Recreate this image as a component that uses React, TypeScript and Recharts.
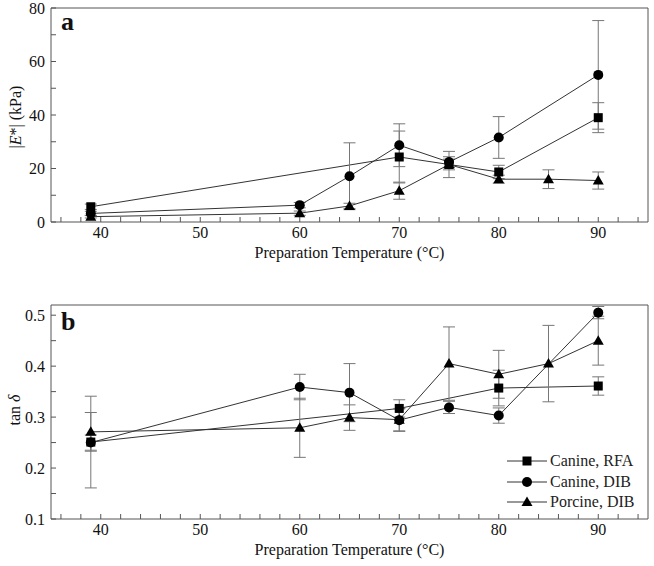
import React from 'react';
import { LineChart, Line, XAxis, YAxis, ErrorBar, Legend } from 'recharts';

// panel a: |E*| (kPa) vs preparation temperature (°C)
const rfaTempsA = [39, 70, 75, 80, 90];
const rfaModulus = [5.7, 24.3, 21.5, 18.7, 39.0];
const rfaModulusErr = [1.0, 9.7, 2.0, 2.5, 5.6];

const canineTempsA = [39, 60, 65, 70, 75, 80, 90];
const canineModulus = [3.2, 6.3, 17.1, 28.7, 22.4, 31.6, 55.0];
const canineModulusErr = [0.8, 1.0, 12.5, 8.0, 2.0, 7.8, 20.3];

const porcineTempsA = [39, 60, 65, 70, 75, 80, 85, 90];
const porcineModulus = [2.0, 3.3, 6.0, 11.7, 21.5, 16.0, 16.0, 15.5];
const porcineModulusErr = [0.5, 0.8, 1.0, 3.2, 4.9, 1.5, 3.5, 3.2];

// panel b: tan delta
const rfaTempsB = [39, 70, 80, 90];
const rfaTan = [0.251, 0.317, 0.357, 0.361];
const rfaTanErr = [0.09, 0.017, 0.035, 0.018];

const canineTempsB = [39, 60, 65, 70, 75, 80, 90];
const canineTan = [0.25, 0.359, 0.348, 0.294, 0.319, 0.303, 0.505];
const canineTanErr = [0.015, 0.025, 0.057, 0.022, 0.012, 0.015, 0.012];

const porcineTempsB = [39, 60, 65, 70, 75, 80, 85, 90];
const porcineTan = [0.271, 0.279, 0.299, 0.295, 0.405, 0.384, 0.405, 0.45];
const porcineTanErr = [0.038, 0.058, 0.025, 0.022, 0.072, 0.047, 0.075, 0.048];

const seriesNames = ['Canine, RFA', 'Canine, DIB', 'Porcine, DIB'];

const xTicks = [36, 38, 40, 42, 44, 46, 48, 50, 52, 54, 56, 58, 60, 62, 64, 66, 68, 70, 72, 74, 76, 78, 80, 82, 84, 86, 88, 90, 92, 94];
const modulusTicks = [0, 10, 20, 30, 40, 50, 60, 70, 80];
const tanTicks = [0.1, 0.15, 0.2, 0.25, 0.3, 0.35, 0.4, 0.45, 0.5];

const FONT = '"Liberation Serif", "Times New Roman", Times, "DejaVu Serif", serif';
const AXIS = '#555';
const LINE = '#333';
const ERR = '#777';

const zip = (t: number[], v: number[], e: number[]) => t.map((x, i) => ({ t: x, v: v[i], e: e[i] }));

const Marker = ({ kind, cx, cy }: { kind: number; cx: number; cy: number }) => {
  if (kind === 0) return <rect x={cx - 4.5} y={cy - 4.5} width={9} height={9} fill="#000" />;
  if (kind === 1) return <circle cx={cx} cy={cy} r={5} fill="#000" />;
  return <polygon points={`${cx},${cy - 5.5} ${cx - 5.5},${cy + 4} ${cx + 5.5},${cy + 4}`} fill="#000" />;
};

const dotFor = (kind: number) => (p: any) => {
  if (p.cx == null || p.cy == null) return <g key={`n-${p.index}`} />;
  return <Marker key={`${kind}-${p.index}`} kind={kind} cx={p.cx} cy={p.cy} />;
};

const XTick = ({ x, y, payload }: any) =>
  payload.value % 10 === 0 ? (
    <text x={x} y={y + 16} textAnchor="middle" fontSize={16} fill="#111" fontFamily={FONT}>{payload.value}</text>
  ) : <g />;

const ModTick = ({ x, y, payload }: any) =>
  payload.value % 20 === 0 ? (
    <text x={x - 6} y={y + 5.5} textAnchor="end" fontSize={16} fill="#111" fontFamily={FONT}>{payload.value}</text>
  ) : <g />;

const TanTick = ({ x, y, payload }: any) =>
  Math.round(payload.value * 100) % 10 === 0 ? (
    <text x={x - 6} y={y + 5.5} textAnchor="end" fontSize={16} fill="#111" fontFamily={FONT}>{payload.value.toFixed(1)}</text>
  ) : <g />;

const XTitle = ({ viewBox }: any) => {
  const vb = viewBox || { x: 51, y: 222, width: 597 };
  return (
    <text x={vb.x + vb.width / 2} y={vb.y + 36} textAnchor="middle" fontSize={16} fill="#111" fontFamily={FONT}>
      Preparation Temperature (°C)
    </text>
  );
};

const ModTitle = ({ viewBox }: any) => {
  const vb = viewBox || { x: 11, y: 8, height: 214 };
  const x = vb.x + 10;
  const y = vb.y + vb.height / 2 + 2;
  return (
    <text x={x} y={y} transform={`rotate(-90, ${x}, ${y})`} textAnchor="middle" fontSize={16} fill="#111" fontFamily={FONT}>
      |<tspan fontStyle="italic">E</tspan>*| (kPa)
    </text>
  );
};

const TanTitle = ({ viewBox }: any) => {
  const vb = viewBox || { x: 11, y: 35, height: 214 };
  const x = vb.x + 9;
  const y = vb.y + vb.height / 2 - 2;
  return (
    <text x={x} y={y} transform={`rotate(-90, ${x}, ${y})`} textAnchor="middle" fontSize={16} fill="#111" fontFamily={FONT}>
      tan <tspan fontStyle="italic">δ</tspan>
    </text>
  );
};

const LegendContent = () => (
  <div style={{ fontFamily: FONT, fontSize: 16, color: '#222' }}>
    {seriesNames.map((name, i) => (
      <div key={name} style={{ display: 'flex', alignItems: 'center', height: 20.5 }}>
        <svg width={40} height={14} style={{ display: 'block' }}>
          <line x1={0} x2={40} y1={7} y2={7} stroke={LINE} strokeWidth={1} />
          <Marker kind={i} cx={20} cy={7} />
        </svg>
        <span style={{ marginLeft: 3, lineHeight: '16px' }}>{name}</span>
      </div>
    ))}
  </div>
);

const frameProps = { stroke: AXIS, strokeWidth: 1 };

export default function App() {
  const modSeries = [
    zip(rfaTempsA, rfaModulus, rfaModulusErr),
    zip(canineTempsA, canineModulus, canineModulusErr),
    zip(porcineTempsA, porcineModulus, porcineModulusErr),
  ];
  const tanSeries = [
    zip(rfaTempsB, rfaTan, rfaTanErr),
    zip(canineTempsB, canineTan, canineTanErr),
    zip(porcineTempsB, porcineTan, porcineTanErr),
  ];

  return (
    <div style={{ position: 'absolute', left: 0, top: 0, width: 654, height: 566, background: '#fff', fontFamily: FONT }}>
      <div style={{ position: 'absolute', left: 0, top: 0 }}>
        <LineChart width={654} height={270} margin={{ top: 7, right: 5, left: 11, bottom: 8 }} style={{ fontFamily: FONT }}>
          <XAxis dataKey="t" type="number" domain={[35, 95]} ticks={xTicks} interval={0} allowDataOverflow
            height={40} tickSize={-5} tickMargin={5} axisLine={frameProps} tickLine={frameProps}
            tick={XTick} label={XTitle} />
          <XAxis xAxisId="top" orientation="top" type="number" domain={[35, 95]} ticks={xTicks} interval={0}
            allowDataOverflow height={1} tickSize={-5} tickMargin={0} axisLine={frameProps} tickLine={frameProps} tick={false} />
          <YAxis type="number" domain={[0, 80]} ticks={modulusTicks} interval={0} allowDataOverflow width={40}
            tickSize={-5} tickMargin={5} axisLine={frameProps} tickLine={frameProps} tick={ModTick} label={ModTitle} />
          <YAxis yAxisId="right" orientation="right" type="number" domain={[0, 80]} ticks={modulusTicks} interval={0}
            allowDataOverflow width={1} tickSize={-5} tickMargin={0} axisLine={frameProps} tickLine={frameProps} tick={false} />
          {modSeries.map((d, i) => (
            <Line key={seriesNames[i]} data={d} dataKey="v" name={seriesNames[i]} stroke={LINE} strokeWidth={1}
              dot={dotFor(i)} activeDot={false} isAnimationActive={false}>
              <ErrorBar dataKey="e" direction="y" width={6} stroke={ERR} strokeWidth={1} />
            </Line>
          ))}
          <text x={61} y={30} fontSize={26} fontWeight="bold" fill="#111" fontFamily={FONT}>a</text>
        </LineChart>
      </div>
      <div style={{ position: 'absolute', left: 0, top: 270 }}>
        <LineChart width={654} height={296} margin={{ top: 34, right: 5, left: 11, bottom: 7 }} style={{ fontFamily: FONT }}>
          <XAxis dataKey="t" type="number" domain={[35, 95]} ticks={xTicks} interval={0} allowDataOverflow
            height={40} tickSize={-5} tickMargin={5} axisLine={frameProps} tickLine={frameProps}
            tick={XTick} label={XTitle} />
          <XAxis xAxisId="top" orientation="top" type="number" domain={[35, 95]} ticks={xTicks} interval={0}
            allowDataOverflow height={1} tickSize={-5} tickMargin={0} axisLine={frameProps} tickLine={frameProps} tick={false} />
          <YAxis type="number" domain={[0.1, 0.52]} ticks={tanTicks} interval={0} allowDataOverflow width={40}
            tickSize={-5} tickMargin={5} axisLine={frameProps} tickLine={frameProps} tick={TanTick} label={TanTitle} />
          <YAxis yAxisId="right" orientation="right" type="number" domain={[0.1, 0.52]} ticks={tanTicks} interval={0}
            allowDataOverflow width={1} tickSize={-5} tickMargin={0} axisLine={frameProps} tickLine={frameProps} tick={false} />
          {tanSeries.map((d, i) => (
            <Line key={seriesNames[i]} data={d} dataKey="v" name={seriesNames[i]} stroke={LINE} strokeWidth={1}
              dot={dotFor(i)} activeDot={false} isAnimationActive={false}>
              <ErrorBar dataKey="e" direction="y" width={6} stroke={ERR} strokeWidth={1} />
            </Line>
          ))}
          <Legend layout="vertical" align="center" verticalAlign="middle" content={LegendContent}
            wrapperStyle={{ position: 'absolute', left: 507, top: 181, width: 140, height: 64 }} />
          <text x={61} y={60} fontSize={26} fontWeight="bold" fill="#111" fontFamily={FONT}>b</text>
        </LineChart>
      </div>
    </div>
  );
}
